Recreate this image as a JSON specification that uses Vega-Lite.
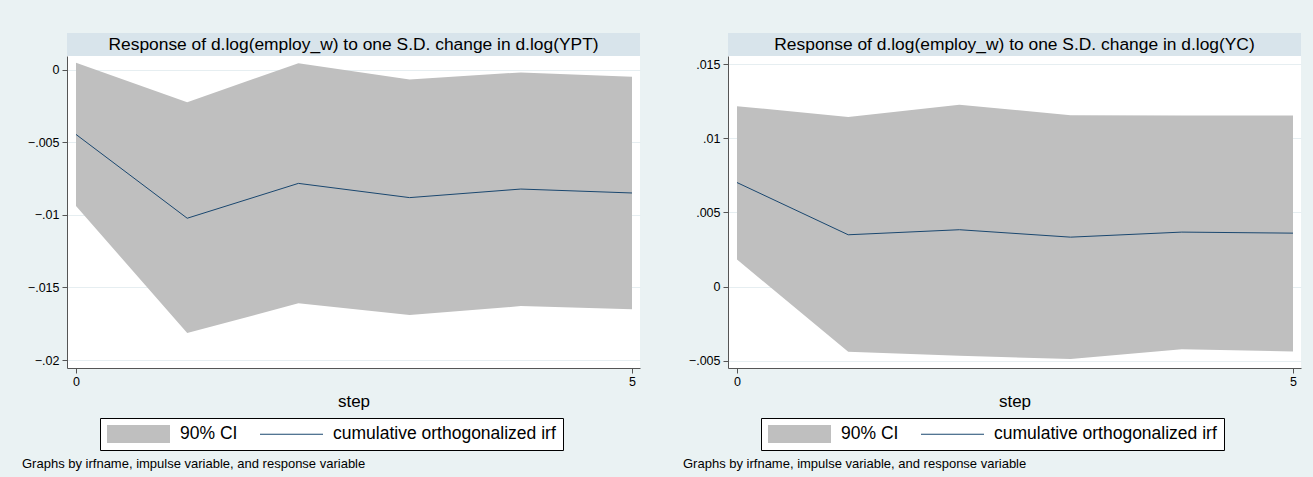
{
  "$schema": "https://vega.github.io/schema/vega-lite/v6.json",
  "background": "#eaf2f3",
  "padding": {"left": 22, "top": 33, "right": 12, "bottom": 7},
  "config": {
    "font": "Liberation Sans",
    "view": {"stroke": null},
    "axis": {
      "labelFont": "Liberation Sans", "labelFontSize": 12.5, "labelColor": "#000",
      "domainColor": "#555", "tickColor": "#555", "tickSize": 5,
      "gridColor": "#e6eef1", "titleFont": "Liberation Sans", "titleFontWeight": "normal",
      "titleColor": "#000", "titleFontSize": 17
    },
    "legend": {
      "orient": "none", "direction": "horizontal", "strokeColor": "#000", "fillColor": "#fff",
      "padding": 7, "symbolOpacity": 1, "symbolSize": 324, "symbolStrokeWidth": 0,
      "labelFont": "Liberation Sans", "labelFontSize": 17.5, "labelColor": "#000",
      "labelOffset": 55, "labelLimit": 400, "columnPadding": 22, "title": null
    },
    "title": {"font": "Liberation Sans", "fontWeight": "normal", "color": "#000"}
  },
  "datasets": {
    "irf": [
      {"panel": "YPT", "step": 0, "lo": -0.0094, "hi": 0.00046, "irf": -0.00447},
      {"panel": "YPT", "step": 1, "lo": -0.01814, "hi": -0.00225, "irf": -0.01024},
      {"panel": "YPT", "step": 2, "lo": -0.0161, "hi": 0.00043, "irf": -0.00784},
      {"panel": "YPT", "step": 3, "lo": -0.0169, "hi": -0.00069, "irf": -0.00882},
      {"panel": "YPT", "step": 4, "lo": -0.01629, "hi": -0.0002, "irf": -0.00823},
      {"panel": "YPT", "step": 5, "lo": -0.0165, "hi": -0.0005, "irf": -0.0085},
      {"panel": "YC", "step": 0, "lo": 0.00182, "hi": 0.01216, "irf": 0.00701},
      {"panel": "YC", "step": 1, "lo": -0.00439, "hi": 0.01142, "irf": 0.00349},
      {"panel": "YC", "step": 2, "lo": -0.00466, "hi": 0.01225, "irf": 0.00383},
      {"panel": "YC", "step": 3, "lo": -0.00489, "hi": 0.01155, "irf": 0.00333},
      {"panel": "YC", "step": 4, "lo": -0.00423, "hi": 0.01153, "irf": 0.00367},
      {"panel": "YC", "step": 5, "lo": -0.00437, "hi": 0.01153, "irf": 0.0036}
    ],
    "keys": [{"key": "90% CI"}, {"key": "cumulative orthogonalized irf"}]
  },
  "hconcat": [
    {
      "vconcat": [
        {
          "width": 573, "height": 23,
          "view": {"fill": "#d8e4eb", "stroke": null},
          "data": {"values": [{"t": "Response of d.log(employ_w) to one S.D. change in d.log(YPT)"}]},
          "mark": {"type": "text", "fontSize": 17.4, "color": "#000", "baseline": "middle", "align": "center"},
          "encoding": {"text": {"field": "t"}}
        },
        {
          "width": 573, "height": 312,
          "view": {"fill": "#ffffff", "stroke": null},
          "title": {"text": "Graphs by irfname, impulse variable, and response variable", "orient": "bottom", "anchor": "start", "frame": "group", "dx": -45, "offset": 7, "fontSize": 13, "baseline": "top"},
          "layer": [
            {
              "data": {"name": "irf"},
              "transform": [{"filter": "datum.panel == 'YPT'"}],
              "mark": {"type": "area", "color": "#bfbfbf", "opacity": 1},
              "encoding": {
                "x": {"field": "step", "type": "quantitative", "scale": {"domain": [-0.081, 5.072], "nice": false, "zero": false},
                      "axis": {"values": [0, 5], "format": "d", "grid": false, "title": "step", "labelPadding": 2, "titlePadding": 6}},
                "y": {"field": "lo", "type": "quantitative", "scale": {"domain": [-0.02055, 0.00093], "nice": false, "zero": false},
                      "axis": {"values": [0, -0.005, -0.01, -0.015, -0.02], "grid": true, "title": null, "labelPadding": 3,
                               "labelExpr": "datum.value == 0 ? '0' : replace(format(datum.value, '.3~f'), '0.', '.')"}},
                "y2": {"field": "hi"}
              }
            },
            {
              "data": {"name": "irf"},
              "transform": [{"filter": "datum.panel == 'YPT'"}],
              "mark": {"type": "line", "color": "#1a476f", "strokeWidth": 1},
              "encoding": {
                "x": {"field": "step", "type": "quantitative"},
                "y": {"field": "irf", "type": "quantitative"}
              }
            },
            {
              "data": {"name": "keys"},
              "mark": {"type": "point", "opacity": 0, "filled": true},
              "encoding": {
                "color": {"field": "key", "type": "nominal", "scale": {"domain": ["90% CI", "cumulative orthogonalized irf"], "range": ["#bfbfbf", "#1a476f"]},
                          "legend": {"legendX": 33, "legendY": 362}},
                "shape": {"field": "key", "type": "nominal", "scale": {"domain": ["90% CI", "cumulative orthogonalized irf"], "range": ["M-1,-1H6V1H-1Z", "M-1,-0.06H6V0.06H-1Z"]},
                          "legend": {"legendX": 33, "legendY": 362}}
              }
            }
          ]
        }
      ],
      "spacing": 0,
      "bounds": "flush",
      "resolve": {"scale": {"color": "independent", "shape": "independent"}, "legend": {"color": "independent", "shape": "independent"}}
    },
    {
      "vconcat": [
        {
          "width": 573, "height": 23,
          "view": {"fill": "#d8e4eb", "stroke": null},
          "data": {"values": [{"t": "Response of d.log(employ_w) to one S.D. change in d.log(YC)"}]},
          "mark": {"type": "text", "fontSize": 17.4, "color": "#000", "baseline": "middle", "align": "center"},
          "encoding": {"text": {"field": "t"}}
        },
        {
          "width": 573, "height": 312,
          "view": {"fill": "#ffffff", "stroke": null},
          "title": {"text": "Graphs by irfname, impulse variable, and response variable", "orient": "bottom", "anchor": "start", "frame": "group", "dx": -45, "offset": 7, "fontSize": 13, "baseline": "top"},
          "layer": [
            {
              "data": {"name": "irf"},
              "transform": [{"filter": "datum.panel == 'YC'"}],
              "mark": {"type": "area", "color": "#bfbfbf", "opacity": 1},
              "encoding": {
                "x": {"field": "step", "type": "quantitative", "scale": {"domain": [-0.081, 5.072], "nice": false, "zero": false},
                      "axis": {"values": [0, 5], "format": "d", "grid": false, "title": "step", "labelPadding": 2, "titlePadding": 6}},
                "y": {"field": "lo", "type": "quantitative", "scale": {"domain": [-0.00549, 0.01554], "nice": false, "zero": false},
                      "axis": {"values": [-0.005, 0, 0.005, 0.01, 0.015], "grid": true, "title": null, "labelPadding": 3,
                               "labelExpr": "datum.value == 0 ? '0' : replace(format(datum.value, '.3~f'), '0.', '.')"}},
                "y2": {"field": "hi"}
              }
            },
            {
              "data": {"name": "irf"},
              "transform": [{"filter": "datum.panel == 'YC'"}],
              "mark": {"type": "line", "color": "#1a476f", "strokeWidth": 1},
              "encoding": {
                "x": {"field": "step", "type": "quantitative"},
                "y": {"field": "irf", "type": "quantitative"}
              }
            },
            {
              "data": {"name": "keys"},
              "mark": {"type": "point", "opacity": 0, "filled": true},
              "encoding": {
                "color": {"field": "key", "type": "nominal", "scale": {"domain": ["90% CI", "cumulative orthogonalized irf"], "range": ["#bfbfbf", "#1a476f"]},
                          "legend": {"legendX": 33, "legendY": 362}},
                "shape": {"field": "key", "type": "nominal", "scale": {"domain": ["90% CI", "cumulative orthogonalized irf"], "range": ["M-1,-1H6V1H-1Z", "M-1,-0.06H6V0.06H-1Z"]},
                          "legend": {"legendX": 33, "legendY": 362}}
              }
            }
          ]
        }
      ],
      "spacing": 0,
      "bounds": "flush",
      "resolve": {"scale": {"color": "independent", "shape": "independent"}, "legend": {"color": "independent", "shape": "independent"}}
    }
  ],
  "spacing": 43,
  "bounds": "full",
  "resolve": {"scale": {"color": "independent", "shape": "independent"}, "legend": {"color": "independent", "shape": "independent"}}
}
